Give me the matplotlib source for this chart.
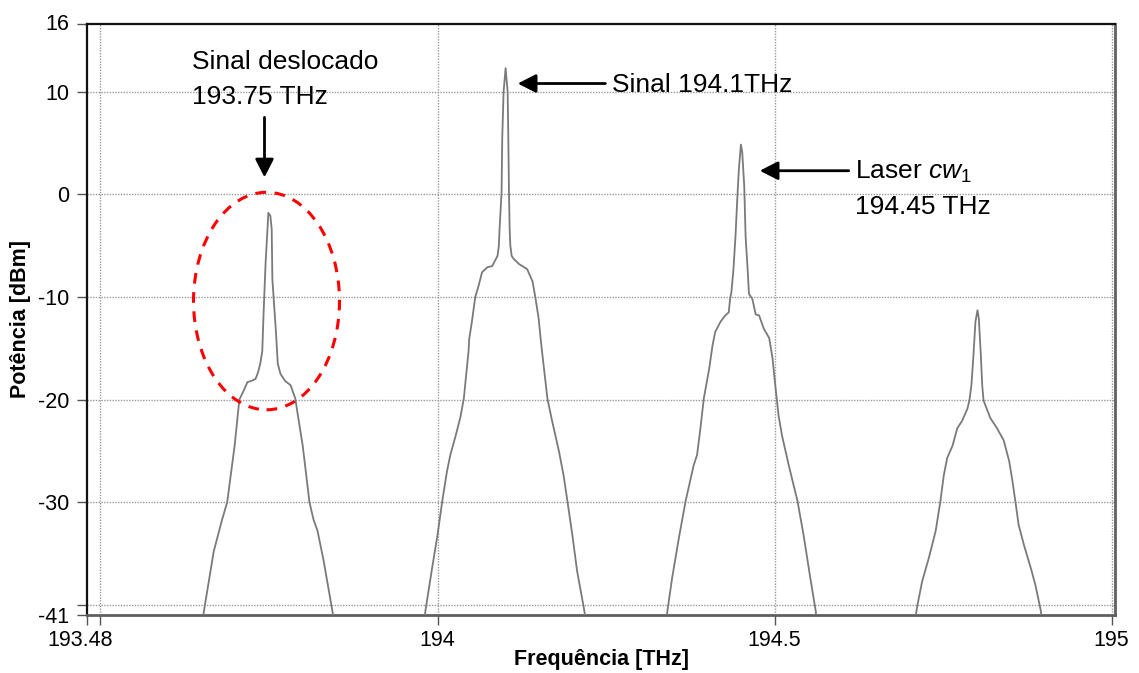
import matplotlib
matplotlib.use("Agg")
import matplotlib.pyplot as plt
from matplotlib.patches import Ellipse
from matplotlib.transforms import ScaledTranslation

plt.rcParams['font.family'] = ['Liberation Sans', 'DejaVu Sans']
plt.rcParams['mathtext.fontset'] = 'custom'
plt.rcParams['mathtext.rm'] = 'Liberation Sans'
plt.rcParams['mathtext.it'] = 'Liberation Sans:italic'

# ---- data ----
ch1_freq = [193.650, 193.653, 193.668, 193.680, 193.688, 193.699, 193.706, 193.712, 193.718, 193.723,
            193.730, 193.734, 193.737, 193.740, 193.742, 193.745, 193.748, 193.749, 193.752, 193.754,
            193.755, 193.760, 193.763, 193.767, 193.774, 193.782, 193.789, 193.792, 193.800, 193.810,
            193.816, 193.822, 193.831, 193.844, 193.847]
ch1_dbm = [-41.9, -40.8, -34.8, -31.8, -30.0, -24.5, -20.0, -19.2, -18.3, -18.2,
           -18.0, -17.3, -16.5, -15.3, -11.5, -6.6, -3.1, -1.8, -2.1, -3.4,
           -8.3, -13.1, -16.5, -17.5, -18.2, -18.6, -19.9, -21.2, -24.5, -30.0,
           -31.7, -32.8, -35.7, -40.6, -41.9]

ch2_freq = [193.980, 193.982, 193.992, 194.000, 194.007, 194.014, 194.019, 194.027, 194.034, 194.039,
            194.046, 194.047, 194.051, 194.056, 194.061, 194.066, 194.074, 194.081, 194.089, 194.091,
            194.092, 194.095, 194.096, 194.098, 194.101, 194.104, 194.105, 194.106, 194.107, 194.108,
            194.110, 194.113, 194.121, 194.126, 194.133, 194.141, 194.145, 194.150, 194.153, 194.155,
            194.163, 194.170, 194.180, 194.187, 194.192, 194.200, 194.207, 194.217, 194.220]
ch2_dbm = [-42.0, -40.6, -36.4, -33.2, -29.9, -27.0, -25.4, -23.5, -21.7, -19.9,
           -15.3, -14.1, -12.4, -10.0, -8.9, -7.6, -7.1, -7.0, -6.0, -5.0,
           -3.4, 0.2, 5.5, 10.0, 12.3, 10.0, 5.5, 0.2, -3.4, -5.0,
           -6.0, -6.3, -6.8, -7.0, -7.3, -8.5, -10.0, -12.1, -14.1, -15.3,
           -19.9, -22.1, -25.0, -27.4, -29.6, -33.2, -36.7, -40.3, -41.5]

ch3_freq = [194.339, 194.341, 194.348, 194.358, 194.368, 194.380, 194.385, 194.390, 194.395, 194.403,
            194.408, 194.412, 194.420, 194.427, 194.432, 194.434, 194.436, 194.439, 194.442, 194.445,
            194.447, 194.450, 194.452, 194.455, 194.457, 194.460, 194.462, 194.467, 194.472, 194.477,
            194.484, 194.492, 194.497, 194.501, 194.506, 194.511, 194.521, 194.534, 194.543, 194.553,
            194.561, 194.563]
ch3_dbm = [-42.0, -40.6, -37.4, -33.5, -29.9, -26.4, -25.4, -22.8, -19.9, -17.0,
           -14.7, -13.4, -12.4, -11.8, -11.5, -10.2, -9.5, -7.3, -4.1, 0.0,
           2.4, 4.85, 4.1, 0.8, -4.1, -7.3, -9.7, -10.2, -11.7, -11.8,
           -13.1, -14.0, -16.0, -18.6, -21.6, -23.5, -26.4, -29.9, -33.2, -37.4,
           -40.6, -42.0]

ch4_freq = [194.708, 194.710, 194.712, 194.719, 194.729, 194.739, 194.746, 194.751, 194.756, 194.764,
            194.771, 194.778, 194.786, 194.789, 194.792, 194.795, 194.798, 194.801, 194.803, 194.806,
            194.808, 194.810, 194.813, 194.820, 194.830, 194.840, 194.848, 194.853, 194.858, 194.862,
            194.870, 194.880, 194.887, 194.895, 194.897]
ch4_dbm = [-42.0, -40.8, -40.0, -37.7, -35.4, -32.8, -29.9, -27.4, -25.7, -24.5,
           -22.8, -22.1, -20.9, -20.1, -18.6, -15.7, -12.4, -11.3, -12.1, -15.7,
           -18.6, -20.1, -20.6, -21.8, -22.8, -24.0, -26.0, -28.0, -30.3, -32.2,
           -34.2, -36.4, -38.1, -40.6, -42.0]

x_min, x_max = 193.48, 195.005
y_min, y_max = -41, 16.6
x_ticks = [x_min, 193.5, 194, 194.5, 195]
x_ticklabels = ['193.48', '', '194', '194.5', '195']
y_ticks = [y_max, 10, 0, -10, -20, -30, -40, y_min]
y_ticklabels = ['16', '10', '0', '-10', '-20', '-30', '', '-41']

# ---- figure ----
fig = plt.figure(figsize=(11.39, 6.73), dpi=100)
ax = fig.add_axes([87/1139, 1 - 615/673, (1115-87)/1139, (615-24)/673])

trace_color = '#7a7a7a'
for f, p in [(ch1_freq, ch1_dbm), (ch2_freq, ch2_dbm), (ch3_freq, ch3_dbm), (ch4_freq, ch4_dbm)]:
    ax.plot(f, p, color=trace_color, lw=1.3, zorder=3)

ax.set_xlim(x_min, x_max)
ax.set_ylim(y_min, y_max)

ax.set_xticks(x_ticks)
ax.set_xticklabels(x_ticklabels, fontsize=15.5)
ax.set_yticks(y_ticks)
ax.set_yticklabels(y_ticklabels, fontsize=15.5)
ax.tick_params(axis='both', direction='out', length=7, width=1, color='#555555', pad=4)
ax.tick_params(axis='y', pad=6)

# shift the "193.48" edge label slightly left, and "16" slightly up
lbl = ax.get_xticklabels()[0]
lbl.set_transform(lbl.get_transform() + ScaledTranslation(-7/100, 0, fig.dpi_scale_trans))
lbl16 = ax.get_yticklabels()[0]
lbl16.set_transform(lbl16.get_transform() + ScaledTranslation(0, 2/100, fig.dpi_scale_trans))

grid_kw = dict(color='#9a9a9a', lw=1.0, ls=(0, (1, 1)), zorder=1)
for gx in [193.5, 194, 194.5, 195]:
    ax.axvline(gx, **grid_kw)
for gy in [10, 0, -10, -20, -30, -40]:
    ax.axhline(gy, **grid_kw)

for s in ['left', 'top']:
    ax.spines[s].set_color('#111111')
    ax.spines[s].set_linewidth(1.6)
for s in ['right', 'bottom']:
    ax.spines[s].set_color('#606060')
    ax.spines[s].set_linewidth(2.0)

ax.set_xlabel('Frequência [THz]', fontsize=15.5, fontweight='bold')
ax.xaxis.set_label_coords(0.5, -0.058)
ax.set_ylabel('Potência [dBm]', fontsize=15.5, fontweight='bold')
ax.yaxis.set_label_coords(-0.0545, 0.5)

# red dashed ellipse around the shifted signal
ell = Ellipse((193.7463, -10.4), 0.2166, 21.2, fill=False, edgecolor='#ff0000',
              lw=2.2, ls=(0, (3.5, 2.8)), zorder=4)
ax.add_patch(ell)

# annotations
fs = 19
ax.text(193.6365, 12.85, 'Sinal deslocado', fontsize=fs, va='center', ha='left')
ax.text(193.6365, 9.45, '193.75 THz', fontsize=fs, va='center', ha='left')
ax.text(194.259, 10.7, 'Sinal 194.1THz', fontsize=fs, va='center', ha='left')
ax.text(194.620, 2.15, r'Laser $\mathit{cw}_{\mathrm{1}}$', fontsize=fs, va='center', ha='left')
ax.text(194.620, -1.25, '194.45 THz', fontsize=fs, va='center', ha='left')

arrow_kw = dict(arrowstyle='-|>,head_length=0.55,head_width=0.28', mutation_scale=20,
                lw=2, color='black', shrinkA=0, shrinkB=0)
ax.annotate('', xy=(193.7433, 1.65), xytext=(193.7433, 7.5), arrowprops=arrow_kw)
ax.annotate('', xy=(194.119, 10.8), xytext=(194.249, 10.8), arrowprops=arrow_kw)
ax.annotate('', xy=(194.478, 2.3), xytext=(194.610, 2.3), arrowprops=arrow_kw)

fig.savefig('out.png', dpi=100)
